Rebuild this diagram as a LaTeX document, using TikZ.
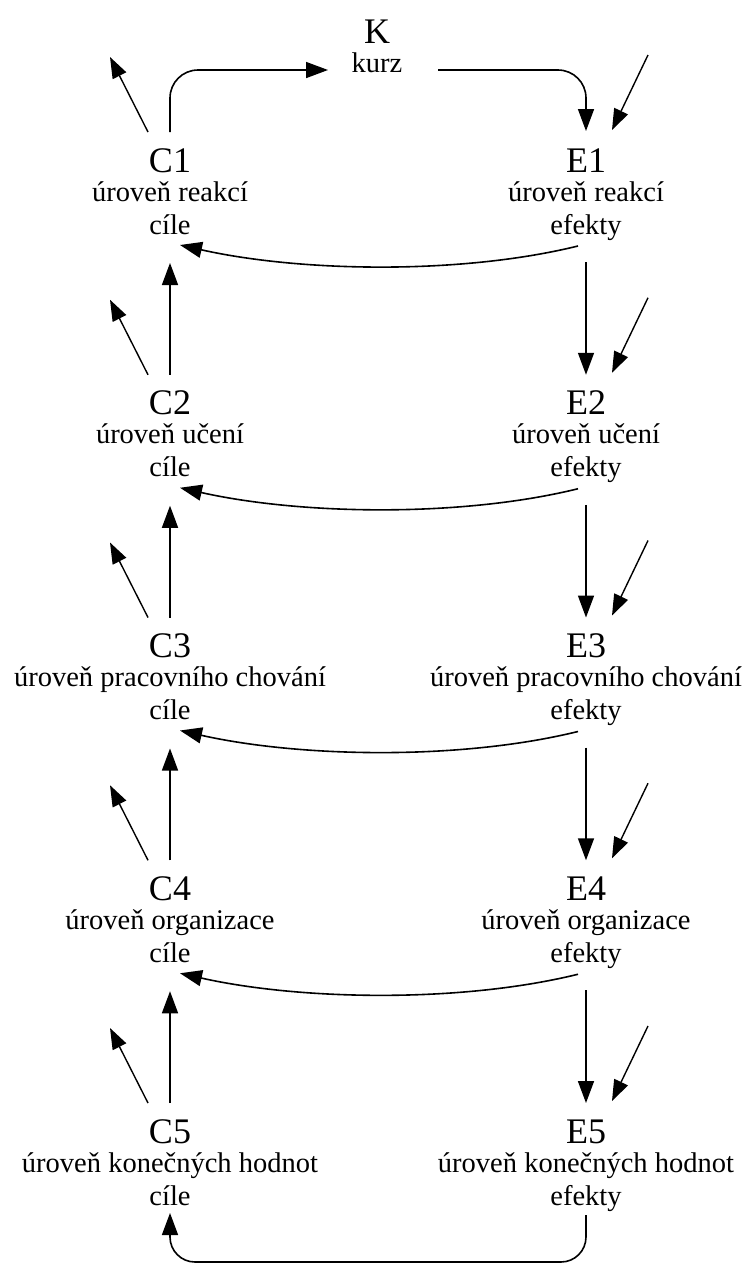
\documentclass[tikz,border=0pt]{standalone}
\usepackage{fontspec}
\setmainfont{Liberation Serif}
\usetikzlibrary{arrows.meta}
\begin{document}
\begin{tikzpicture}[x=1pt,y=-1pt,
  big/.style={anchor=base,inner sep=0pt,font=\fontsize{36}{40}\selectfont},
  small/.style={anchor=base,inner sep=0pt,font=\fontsize{28.5}{32}\selectfont},
  arr/.style={line width=1.6pt,-{Triangle[length=22pt,width=16pt]}},
  free/.style={line width=1.4pt,-{Triangle[length=21pt,width=15pt]}}]
\useasboundingbox (0,0) rectangle (742,1270);
% top node
\node[big] (K) at (377,43) {K};
\node[small] (Kk) at (377,72) {kurz};
% levels
\foreach \i/\t [evaluate=\i as \d using (\i-1)*242.75] in {1/{úroveň reakcí},2/{úroveň učení},3/{úroveň pracovního chování},4/{úroveň organizace},5/{úroveň konečných hodnot}} {
  \node[big] (C\i) at (170,172+\d) {C\i};
  \node[small] (Cl\i) at (170,201+\d) {\t};
  \node[small] (Cc\i) at (170,234+\d) {cíle};
  \node[big] (E\i) at (586,172+\d) {E\i};
  \node[small] (El\i) at (586,201+\d) {\t};
  \node[small] (Ec\i) at (586,234+\d) {efekty};
  % free arrows
  \draw[free] ([shift={(-22pt,40pt)}]C\i.base) -- ([shift={(-60pt,115pt)}]C\i.base);
  \draw[free] ([shift={(62pt,117pt)}]E\i.base) -- ([shift={(26pt,42pt)}]E\i.base);
}
\foreach \i [evaluate=\i as \j using int(\i+1)] in {1,2,3,4} {
  \draw[arr] ([yshift=-28pt]Ec\i.base) -- ([yshift=40pt]E\j.base);
  \draw[arr] ([yshift=40pt]C\j.base) -- ([yshift=-29pt]Cc\i.base);
  % curved feedback E -> C
  \draw[arr] ([shift={(-8pt,-12pt)}]Ec\i.base) .. controls +(-118pt,-29pt) and +(120pt,-27pt) .. ([shift={(10pt,-11pt)}]Cc\i.base);
}
% course loop
\draw[arr,rounded corners=28pt] ([yshift=40pt]C1.base) |- ([shift={(-49pt,2pt)}]Kk.base);
\draw[arr,rounded corners=28pt] ([shift={(61pt,2pt)}]Kk.base) -| ([yshift=41pt]E1.base);
% bottom loop
\draw[arr,rounded corners=25pt] ([yshift=-10pt]Ec5.base) -- ++(0,-47pt) -| ([yshift=-8pt]Cc5.base);
\end{tikzpicture}
\end{document}
